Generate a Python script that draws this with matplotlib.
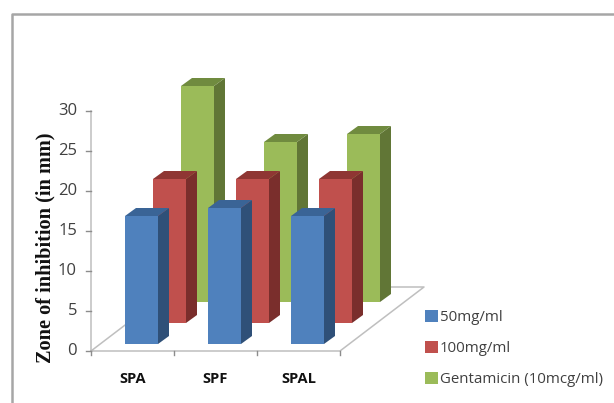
import matplotlib
matplotlib.use('Agg')
import matplotlib.pyplot as plt
from matplotlib.patches import Polygon, Patch

categorias = ['SPA', 'SPF', 'SPAL']
series = ['50mg/ml', '100mg/ml', 'Gentamicin (10mcg/ml)']
v50 = [16, 17, 16]
v100 = [18, 18, 18]
genta = [27, 20, 21]
valores = [v50, v100, genta]
yticks = [0, 5, 10, 15, 20, 25, 30]

# cores: frente, lado, topo
cores = [('#4F81BD', '#2F5078', '#3A6496'),
         ('#C0504D', '#7A2E2C', '#8F3633'),
         ('#9BBB59', '#617636', '#708B3F')]

W, H = 614, 403
PX = 83.0  # pixeis por categoria
PY = 8.0   # pixeis por unidade
X0, Y0 = 91, 351

fig = plt.figure(figsize=(W / 100, H / 100), dpi=100)
ax = fig.add_axes([0, 0, 1, 1])
ax.set_xlim(-X0 / PX, (W - X0) / PX)
ax.set_ylim((Y0 - H) / PY, Y0 / PY)
ax.axis('off')


# projeccao obliqua: d em pixeis de profundidade do chao
def proj(x, v, d=0.0):
    return x + d * 84 / 64 / PX, v + d / PY


# moldura
ax.plot([-79 / PX, -79 / PX, (W - X0) / PX],
        [(Y0 - H) / PY, (Y0 - 14) / PY, (Y0 - 14) / PY], color='#A6A6A6', lw=1.8, zorder=1)

# chao
cg = '#BFBFBF'
n = len(categorias)
canto = [proj(0, 0), proj(n, 0), proj(n, 0, 64), proj(0, 0, 64), proj(0, 0)]
ax.plot([c[0] for c in canto], [c[1] for c in canto], color=cg, lw=1.1, zorder=1)

# eixo y e marcas
ax.plot([0, 0], [0, yticks[-1]], color=cg, lw=1.1, zorder=1)
for t in yticks:
    ax.plot([-5 / PX, 0], [t, t], color='#8C8C8C', lw=1.0, zorder=1)
    ax.text(-14 / PX, t, str(t), ha='right', va='center', fontsize=12,
            family='Open Sans', color='#404040')
for i in range(n + 1):
    ax.plot([i, i], [0, -4 / PY], color='#8C8C8C', lw=1.0, zorder=1)
for i, c in enumerate(categorias):
    ax.text(i + 0.5, -28 / PY, c, ha='center', va='center', fontsize=10.5,
            family='Open Sans', fontweight='bold', color='#111111')

ax.text(-46 / PX, 103 / PY, 'Zone of inhibition (in mm)', rotation=90, ha='center', va='center',
        fontsize=14.6, family='Liberation Serif', fontweight='bold', color='#111111')

# barras, de tras para a frente
larg = 33 / PX
lado_x = 11 / PX
lado_y = 8 / PY
z = 2
for s in [2, 1, 0]:
    for i in range(n):
        # base da barra no chao, cada serie recua 21 px
        y = (7 + 21 * s) / PY
        x = i + (34 + 28 * s) / PX
        topo = y + valores[s][i]
        frente, lado, cima = cores[s]
        ax.add_patch(Polygon([(x + larg, y), (x + larg + lado_x, y + lado_y),
                              (x + larg + lado_x, topo + lado_y), (x + larg, topo)],
                             facecolor=lado, edgecolor='none', zorder=z))
        ax.add_patch(Polygon([(x, topo), (x + larg, topo), (x + larg + lado_x, topo + lado_y),
                              (x + lado_x, topo + lado_y)],
                             facecolor=cima, edgecolor='none', zorder=z))
        ax.add_patch(Polygon([(x, y), (x + larg, y), (x + larg, topo), (x, topo)],
                             facecolor=frente, edgecolor='none', zorder=z))
        z += 1

# legenda
handles = [Patch(facecolor=cores[s][0], label=series[s]) for s in range(3)]
leg = ax.legend(handles=handles, loc='upper left', bbox_to_anchor=(419 / W, 1 - 304 / H),
                frameon=False, handlelength=0.85, handleheight=0.85, handletextpad=0.15,
                labelspacing=1.05, borderpad=0.4, borderaxespad=0,
                prop={'family': 'Open Sans', 'size': 10.8})
for t in leg.get_texts():
    t.set_color('#404040')

plt.savefig('out.png', dpi=100)
plt.close()
